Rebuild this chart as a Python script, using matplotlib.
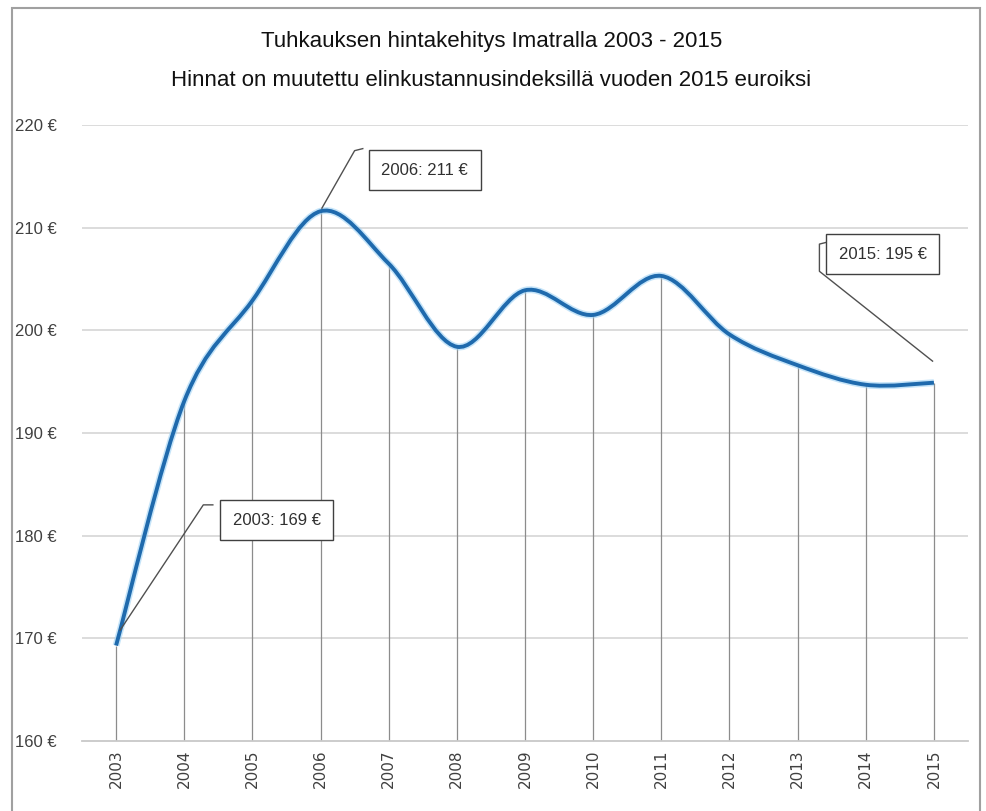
import matplotlib
matplotlib.use("Agg")
import matplotlib.pyplot as plt
from matplotlib.path import Path
from matplotlib.patches import PathPatch, Rectangle

years = [2003, 2004, 2005, 2006, 2007, 2008, 2009, 2010, 2011, 2012, 2013, 2014, 2015]
prices = [169.3, 193.1, 202.9, 211.6, 206.5, 198.4, 203.9, 201.5, 205.3, 199.6, 196.6, 194.7, 194.9]
ytick_vals = [160, 170, 180, 190, 200, 210, 220]
ytick_labels = ["160 €", "170 €", "180 €", "190 €", "200 €", "210 €", "220 €"]
title_lines = ["Tuhkauksen hintakehitys Imatralla 2003 - 2015",
               "Hinnat on muutettu elinkustannusindeksillä vuoden 2015 euroiksi"]
labels = {2003: "2003: 169 €", 2006: "2006: 211 €", 2015: "2015: 195 €"}

narrow = ['Liberation Sans Narrow', 'Liberation Sans', 'DejaVu Sans']

fig = plt.figure(figsize=(9.87, 8.11), dpi=100)
ax = fig.add_axes([82/987, 1-741/811, (968-82)/987, (741-125)/811])

# outer border
fig.patches.append(Rectangle((12/987, -0.01), (980-12)/987, 1-8/811+0.01,
                             transform=fig.transFigure, fill=False,
                             edgecolor='#a0a0a0', lw=1.5))

ax.set_xlim(2002.5, 2015.5)
ax.set_ylim(160, 220)
for s in ['left', 'right', 'top']:
    ax.spines[s].set_visible(False)
ax.spines['bottom'].set_color('#c8c8c8')
ax.spines['bottom'].set_linewidth(1.3)

for v in ytick_vals[1:]:
    ax.axhline(v, color='#d9d9d9', lw=1.3, zorder=0)

# drop lines
ax.vlines(years, 160, prices, color='#8c8c8c', lw=0.9, zorder=1)

# smooth curve (Bezier through data points, Catmull-Rom style)
verts = [(years[0], prices[0])]
codes = [Path.MOVETO]
n = len(years)
t = 1/6
for i in range(n-1):
    p0 = (years[max(i-1, 0)], prices[max(i-1, 0)])
    p1 = (years[i], prices[i])
    p2 = (years[i+1], prices[i+1])
    p3 = (years[min(i+2, n-1)], prices[min(i+2, n-1)])
    c1 = (p1[0] + (p2[0]-p0[0])*t, p1[1] + (p2[1]-p0[1])*t)
    c2 = (p2[0] - (p3[0]-p1[0])*t, p2[1] - (p3[1]-p1[1])*t)
    verts += [c1, c2, p2]
    codes += [Path.CURVE4]*3
ax.add_patch(PathPatch(Path(verts, codes), fill=False, edgecolor='#9fd3f5', lw=5.0, zorder=2, alpha=0.6))
ax.add_patch(PathPatch(Path(verts, codes), fill=False, edgecolor='#1f6aad', lw=2.8, zorder=3))

ax.set_xticks(years)
ax.set_xticklabels([str(y) for y in years], rotation=90, fontsize=11,
                   color='#404040', family='DejaVu Sans')
ax.set_yticks(ytick_vals)
ax.set_yticklabels(ytick_labels, fontsize=12, color='#404040', family=narrow)
ax.tick_params(axis='both', length=0)
ax.tick_params(axis='x', pad=6)
ax.tick_params(axis='y', pad=18)

# title
fig.text(0.498, 1-42/811, title_lines[0], ha='center', va='center', fontsize=16,
         family=narrow, color='#111111', fontweight='medium')
fig.text(0.498, 1-80/811, title_lines[1], ha='center', va='center', fontsize=16,
         family=narrow, color='#111111', fontweight='medium')

# annotations
ann = {
    2003: ([(2003.06, 170.8), (2004.28, 183.0), (2004.42, 183.0)], (2005.36, 181.5)),
    2006: ([(2006.02, 211.9), (2006.5, 217.5), (2006.62, 217.7)], (2007.53, 215.6)),
    2015: ([(2014.98, 197.0), (2013.32, 205.75), (2013.32, 208.4), (2013.44, 208.6)], (2014.25, 207.4)),
}
for yr, (pts, ctr) in ann.items():
    xs = [p[0] for p in pts]
    ys = [p[1] for p in pts]
    ax.plot(xs, ys, color='#505050', lw=1.0, zorder=4, clip_on=False)
    ax.text(ctr[0], ctr[1], labels[yr], ha='center', va='center', fontsize=12,
            family=narrow, color='#303030', zorder=5,
            bbox=dict(boxstyle='square,pad=0.75', fc='white', ec='#404040', lw=1.0))

fig.savefig('out.png', dpi=100)
